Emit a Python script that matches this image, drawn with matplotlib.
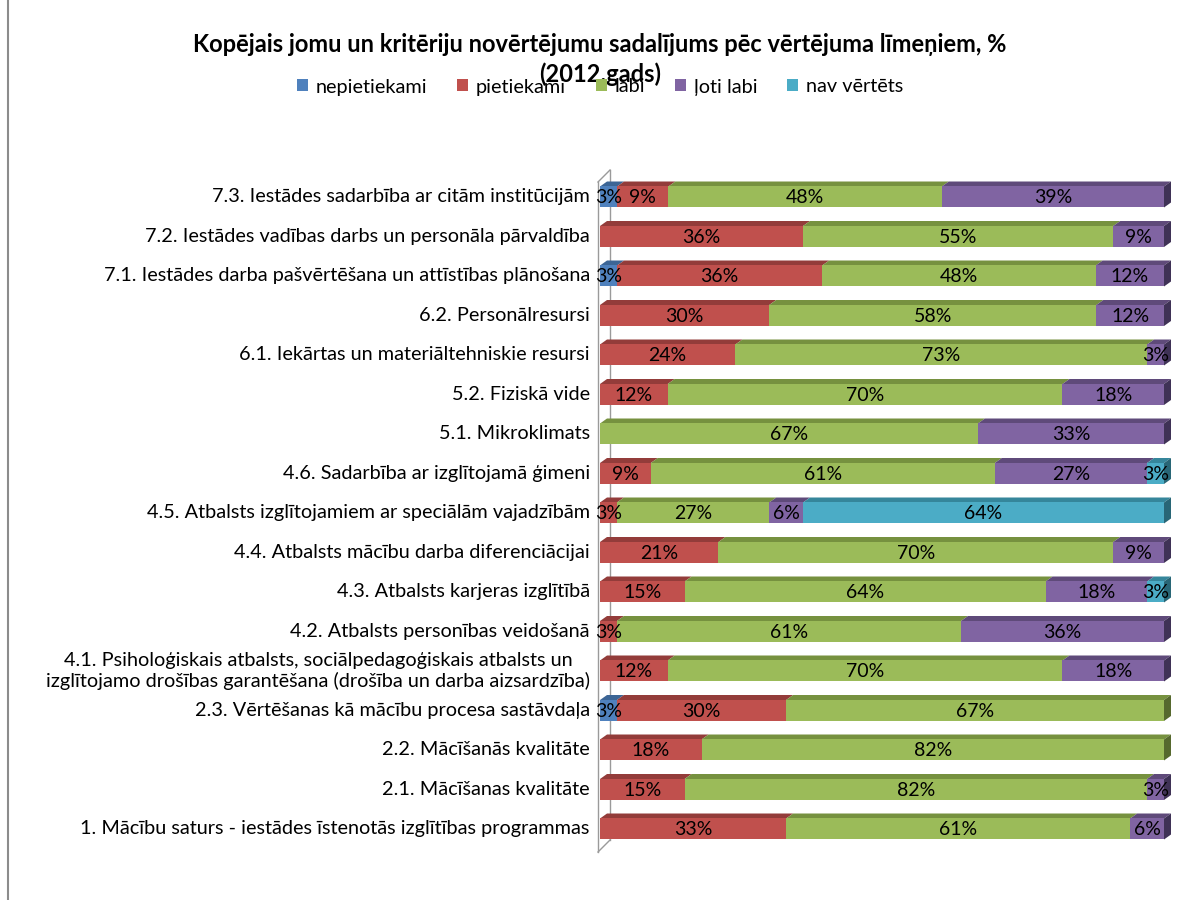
import matplotlib
matplotlib.use("Agg")
import matplotlib.pyplot as plt
from matplotlib.patches import Polygon, Patch
from matplotlib.lines import Line2D

plt.rcParams['font.family'] = ['Lato', 'DejaVu Sans']

# Categories, top to bottom as in the chart
categories = [
    "7.3. Iestādes sadarbība ar citām institūcijām",
    "7.2. Iestādes vadības darbs un personāla pārvaldība",
    "7.1. Iestādes darba pašvērtēšana un attīstības plānošana",
    "6.2. Personālresursi",
    "6.1. Iekārtas un materiāltehniskie resursi",
    "5.2. Fiziskā vide",
    "5.1. Mikroklimats",
    "4.6. Sadarbība ar izglītojamā ģimeni",
    "4.5. Atbalsts izglītojamiem ar speciālām vajadzībām",
    "4.4. Atbalsts mācību darba diferenciācijai",
    "4.3. Atbalsts karjeras izglītībā",
    "4.2. Atbalsts personības veidošanā",
    "4.1. Psiholoģiskais atbalsts, sociālpedagoģiskais atbalsts un\nizglītojamo drošības garantēšana (drošība un darba aizsardzība)",
    "2.3. Vērtēšanas kā mācību procesa sastāvdaļa",
    "2.2. Mācīšanās kvalitāte",
    "2.1. Mācīšanas kvalitāte",
    "1. Mācību saturs - iestādes īstenotās izglītības programmas",
]

series_names = ["nepietiekami", "pietiekami", "labi", "ļoti labi", "nav vērtēts"]

nepietiekami = [3, 0, 3, 0, 0, 0, 0, 0, 0, 0, 0, 0, 0, 3, 0, 0, 0]
pietiekami = [9, 36, 36, 30, 24, 12, 0, 9, 3, 21, 15, 3, 12, 30, 18, 15, 33]
labi = [48, 55, 48, 58, 73, 70, 67, 61, 27, 70, 64, 61, 70, 67, 82, 82, 61]
loti_labi = [39, 9, 12, 12, 3, 18, 33, 27, 6, 9, 18, 36, 18, 0, 0, 3, 6]
nav_vertets = [0, 0, 0, 0, 0, 0, 0, 3, 64, 0, 3, 0, 0, 0, 0, 0, 0]

series = [nepietiekami, pietiekami, labi, loti_labi, nav_vertets]

front_colors = ["#4F81BD", "#C0504D", "#9BBB59", "#8064A2", "#4BACC6"]
top_colors = ["#3C6595", "#933C3A", "#76913F", "#5F4A7A", "#35869B"]
side_colors = ["#2E4E73", "#6E2D2B", "#56692E", "#3F3256", "#286676"]

W, H = 1184, 900
fig = plt.figure(figsize=(W / 100, H / 100), dpi=100)

# axes placed in pixel terms: bars from x=600 to 1165, rows centered 197..829
px_left, px_right = 600, 1176
px_top, px_bottom = 160, 862
ax = fig.add_axes([px_left / W, 1 - px_bottom / H, (px_right - px_left) / W, (px_bottom - px_top) / H])
xu = 564 / 100.0          # pixels per x unit
yu = 39.5                 # pixels per row
ax.set_xlim(0, (px_right - px_left) / xu)
ax.set_ylim((px_bottom - 197) / yu, (px_top - 197) / yu)
ax.axis("off")

# 3d wall on the left (drawn in pixel space of figure)
wall_color = "#9a9a9a"
for xs, ys in [([598, 598], [182, 852]), ([610, 610], [170, 840]),
               ([598, 610], [182, 170]), ([598, 610], [852, 840])]:
    fig.add_artist(Line2D([x / W for x in xs], [1 - y / H for y in ys],
                          color=wall_color, lw=1.0, zorder=0))
# chart area border (left edge)
fig.add_artist(Line2D([8 / W, 8 / W], [0, 1], color="#8c8c8c", lw=1.5))

bar_h = 21 / yu
dx = 7 / xu
dy = 5 / yu

for i in range(len(categories)):
    vals = [s[i] for s in series]
    total = float(sum(vals))
    left = 0.0
    last = max(k for k in range(5) if vals[k] > 0)
    for k, v in enumerate(vals):
        if v == 0:
            continue
        w = v / total * 100
        ax.barh(i, w, left=left, height=bar_h, color=front_colors[k], lw=0, zorder=3)
        top = i - bar_h / 2
        ax.add_patch(Polygon([(left, top), (left + w, top), (left + w + dx, top - dy), (left + dx, top - dy)],
                             closed=True, facecolor=top_colors[k], lw=0, zorder=2))
        if k == last:
            ax.add_patch(Polygon([(left + w, top), (left + w + dx, top - dy),
                                  (left + w + dx, top - dy + bar_h), (left + w, top + bar_h)],
                                 closed=True, facecolor=side_colors[k], lw=0, zorder=2))
        ax.text(left + w / 2, i + 0.02, f"{v}%", ha="center", va="center", fontsize=14,
                color="black", zorder=5)
        left += w

# category labels (multi-line one is centred like in Excel)
for i, c in enumerate(categories):
    ax.text(-1.8, i, c, ha="right", va="center", fontsize=14.3, color="black",
            linespacing=1.2, multialignment="center", clip_on=False)

fig.text(600 / W, 1 - 45 / H, "Kopējais jomu un kritēriju novērtējumu sadalījums pēc vērtējuma līmeņiem, %",
         ha="center", va="center", fontsize=17, fontweight="bold")
fig.text(600 / W, 1 - 74 / H, "(2012.gads)", ha="center", va="center", fontsize=17, fontweight="bold")

handles = [Patch(facecolor=c, edgecolor="none") for c in front_colors]
fig.legend(handles, series_names, loc="center", bbox_to_anchor=(600 / W, 1 - 87 / H), ncol=5,
           frameon=False, fontsize=14.3, handlelength=0.55, handleheight=0.55, handletextpad=0.4,
           columnspacing=1.5)

fig.savefig("out.png", dpi=100, facecolor="white")
